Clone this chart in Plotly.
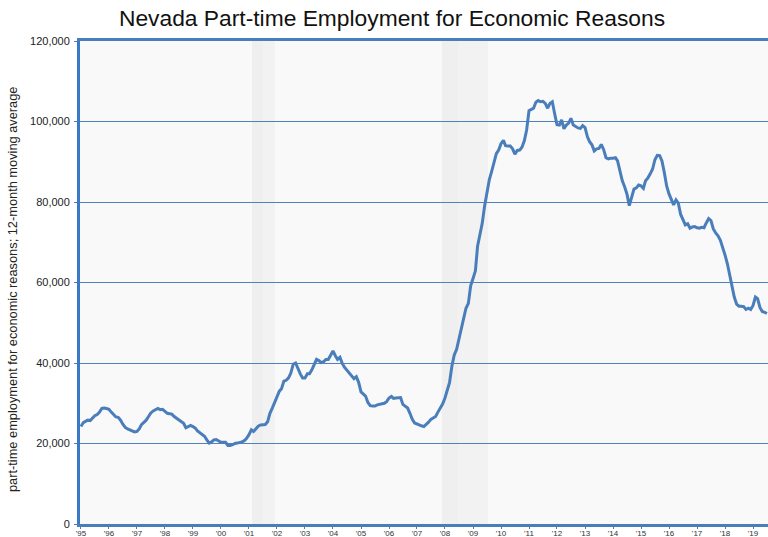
import plotly.graph_objects as go
import pandas as pd

# Monthly 12-month moving average, Jan 1995 onward
values = [
    # 1995
    24200, 25200, 25500, 25800, 25700, 26300, 26900, 27200, 27800, 28700, 28800, 28700,
    # 1996
    28500, 27800, 27100, 26600, 26500, 25800, 24800, 24000, 23600, 23300, 23000, 22900,
    # 1997
    23000, 23700, 24700, 25300, 25800, 26700, 27600, 28100, 28400, 28700, 28400, 28500,
    # 1998
    28000, 27500, 27400, 27300, 26700, 26300, 25800, 25300, 25000, 23900, 24200, 24500,
    # 1999
    24200, 23800, 23100, 22600, 22300, 21800, 20900, 20100, 20400, 20900, 21000, 20700,
    # 2000
    20300, 20300, 20300, 19500, 19500, 19700, 20000, 20100, 20200, 20400, 20700, 21300,
    # 2001
    22200, 23400, 23000, 23600, 24300, 24600, 24600, 24700, 25400, 27500, 28800, 30300,
    # 2002
    31500, 33000, 33600, 35500, 35700, 36300, 37500, 39700, 40000, 38500, 37300, 36300,
    # 2003
    36300, 37300, 37300, 38300, 39500, 40900, 40600, 40100, 40300, 40900, 40900, 41800,
    # 2004
    43000, 41800, 40900, 41400, 39900, 38900, 38200, 37500, 37000, 36100, 36600, 35200,
    # 2005
    32800, 32200, 31800, 30200, 29400, 29300, 29300, 29600, 29800, 29800, 30000, 30400,
    # 2006
    31300, 31700, 31200, 31300, 31400, 31400, 29700, 29300, 28800, 27500, 26000, 25100,
    # 2007
    24800, 24600, 24400, 24200, 24700, 25300, 26000, 26400, 26700, 27800, 28800, 29800,
    # 2008
    31300, 33200, 35200, 39300, 42000, 43400, 46000, 49000, 51500, 53600, 54800, 59200,
    # 2009
    61000, 62900, 69000, 72000, 74700, 79000, 82600, 85500, 87600, 89500, 92000, 92900,
    # 2010
    94500, 95300, 94000, 93900, 93900, 93200, 91900, 92800, 92900, 93600, 95200, 97900,
    # 2011
    102700, 103000, 103300, 104800, 105200, 104900, 105000, 104500, 103300, 104500, 104900, 102000,
    # 2012
    99200, 99100, 100400, 98200, 99100, 99600, 100800, 99100, 98700, 98400, 98300, 99000,
    # 2013
    98500, 96200, 95000, 94200, 92700, 93200, 93300, 94300, 93000, 91000, 90700, 90900,
    # 2014
    90900, 91000, 90200, 87800, 85300, 83800, 82000, 79100, 81300, 83200, 83500, 84200,
    # 2015
    84000, 83400, 85300, 86000, 87000, 88200, 90500, 91600, 91500, 90200, 87300, 84000,
    # 2016
    82000, 80500, 79300, 80500, 79700, 76900, 75600, 74300, 74600, 73500, 73800, 73900,
    # 2017
    73600, 73500, 73700, 73600, 74800, 75900, 75400, 73300, 72300, 71600, 70500, 68800,
    # 2018
    66800, 64600, 61900, 59700, 56400, 54600, 54100, 54100, 54000, 53300, 53600, 53300,
    # 2019
    54300, 56400, 56000, 53800, 52800, 52600, 52300,
]
dates = pd.date_range("1995-01-01", periods=len(values), freq="MS")

year_ticks = [f"{y}-01-01" for y in range(1995, 2020)]
year_labels = ["'95", "'96", "'97", "'98", "'99", "'00", "'01", "'02", "'03", "'04",
               "'05", "'06", "'07", "'08", "'09", "'10", "'11", "'12", "'13", "'14",
               "'15", "'16", "'17", "'18", "'19"]

y_ticks = [0, 20000, 40000, 60000, 80000, 100000, 120000]
y_labels = ["0", "20,000", "40,000", "60,000", "80,000", "100,000", "120,000"]

# Recession shading bands (start, end, colour)
rec_starts = ["2001-02-09", "2001-02-09", "2007-11-21", "2007-11-21"]
rec_ends = ["2001-12-05", "2001-07-01", "2009-07-15", "2008-06-17"]
rec_colors = ["#f2f2f2", "#efefef", "#f2f2f2", "#efefef"]

blue = "#4a7ebb"

W, H = 768, 537
L, T, B = 80, 41, 13

fig = go.Figure()
fig.add_trace(go.Scatter(
    x=dates, y=values, mode="lines",
    line=dict(color=blue, width=3),
    hoverinfo="skip", showlegend=False,
))

shapes = []
for s, e, c in zip(rec_starts, rec_ends, rec_colors):
    shapes.append(dict(type="rect", xref="x", yref="paper", x0=s, x1=e, y0=0, y1=1,
                       fillcolor=c, line=dict(width=0), layer="below"))

fig.update_layout(
    width=W, height=H,
    margin=dict(l=L, r=0, t=T, b=B, pad=0, autoexpand=False),
    paper_bgcolor="white", plot_bgcolor="#f9f9f9",
    font=dict(family="Liberation Sans, Arial, sans-serif", color="#222"),
    title=dict(text="Nevada Part-time Employment for Economic Reasons",
               font=dict(size=22.8, color="#111"),
               xref="container", yref="container", x=392 / W, xanchor="center",
               y=1 - 18 / H, yanchor="middle", automargin=False),
    shapes=shapes,
    showlegend=False,
    annotations=[dict(text="part-time employment for economic reasons; 12-month moving average",
                      xref="paper", yref="paper", x=(12 - L) / (W - L), y=1 - (290 - T) / (H - T - B),
                      textangle=-90, showarrow=False, font=dict(size=12.8, color="#222"),
                      xanchor="center", yanchor="middle")],
)

fig.update_xaxes(
    type="date", range=["1994-12-20", "2019-07-15"], automargin=False,
    tickmode="array", tickvals=year_ticks, ticktext=year_labels,
    tickfont=dict(size=8, color="#333"),
    showgrid=False, zeroline=False,
    showline=True, linecolor=blue, linewidth=3, mirror=True,
    ticks="outside", ticklen=2, tickcolor=blue, tickwidth=1,
    ticklabelstandoff=-3,
)
fig.update_yaxes(
    range=[0, 120000], automargin=False,
    tickmode="array", tickvals=y_ticks, ticktext=y_labels,
    tickfont=dict(size=11, color="#222"),
    showgrid=True, gridcolor="#4f81bd", gridwidth=1, zeroline=False,
    showline=True, linecolor="#3a78c8", linewidth=3,
    ticks="outside", ticklen=3, tickcolor=blue, tickwidth=1,
    ticklabelstandoff=2,
)

fig.write_html("out.html",
               config={"displayModeBar": False, "staticPlot": True},
               post_script="document.body.style.margin='0';document.body.style.overflow='hidden';")
